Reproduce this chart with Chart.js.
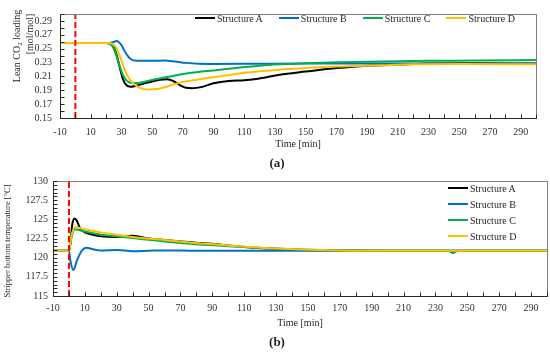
<!DOCTYPE html>
<html>
<head>
<meta charset="utf-8">
<script src="https://cdn.jsdelivr.net/npm/chart.js@4.4.0/dist/chart.umd.min.js"></script>
<style>
  html, body { margin: 0; padding: 0; background: #fff; }
  #wrap { position: relative; width: 550px; height: 352px; overflow: hidden;
    font-family: "Liberation Serif", "Times New Roman", serif; color: #262626; }
  canvas { position: absolute; left: 0; }
  #chartA { top: 0; }
  #chartB { top: 170px; }
  .ytitle { position: absolute; white-space: nowrap; line-height: 1;
    transform: translate(-50%, -50%) rotate(-90deg); font-size: 10px; }
  .ytitle sub { font-size: 7px; vertical-align: -2px; }
  .panel { position: absolute; transform: translate(-50%, -50%); font-weight: bold; font-size: 13px; }
  .legend { position: absolute; display: flex; font-size: 10px; }
  .legend .item { display: flex; align-items: center; height: 16px; }
  .legend .swatch { width: 20px; height: 2px; margin-right: 2px; }
</style>
</head>
<body>
<div id="wrap">
  <canvas id="chartA" width="550" height="150"></canvas>
  <canvas id="chartB" width="550" height="162"></canvas>
  <div class="ytitle" style="left:18px; top:46px;">Lean CO<sub>2</sub> loading</div>
  <div class="ytitle" style="left:30px; top:34px;">[mol/mol]</div>
  <div class="ytitle" style="left:7px; top:241px; font-size:8.5px;">Stripper bottom temperature [°C]</div>
  <div class="panel" style="left:277px; top:163px;">(a)</div>
  <div class="panel" style="left:277px; top:342px;">(b)</div>
  <div class="legend" id="legendA" style="left:195px; top:10px; gap:16px;"></div>
  <div class="legend" id="legendB" style="left:448px; top:180px; flex-direction:column;"></div>
</div>
<script>
const seriesNames = ["Structure A", "Structure B", "Structure C", "Structure D"];
const seriesColors = ["#000000", "#0070C0", "#00B050", "#FFC000"];
const eventTime = 0;

const xTicks = [-10, 10, 30, 50, 70, 90, 110, 130, 150, 170, 190, 210, 230, 250, 270, 290];
const loadTicks = [0.15, 0.17, 0.19, 0.21, 0.23, 0.25, 0.27, 0.29];
const tempTicks = [115, 117.5, 120, 122.5, 125, 127.5, 130];

// (a) lean CO2 loading [mol/mol]
const loadTimeA = [-10, 20, 23, 25, 27, 29, 31, 33, 36, 40, 45, 50, 55, 60, 64, 68, 72, 76, 82, 90, 100, 110, 120, 133, 150, 170, 190, 210, 230, 260, 300];
const loadA = [0.258, 0.258, 0.257, 0.252, 0.240, 0.222, 0.206, 0.198, 0.195, 0.197, 0.200, 0.2026, 0.2053, 0.206, 0.203, 0.1975, 0.1935, 0.193, 0.1945, 0.200, 0.2035, 0.2045, 0.207, 0.2125, 0.217, 0.222, 0.2255, 0.227, 0.2285, 0.229, 0.2285];
const loadTimeB = [-10, 20, 24, 27, 30, 33, 36, 40, 50, 58, 65, 72, 80, 90, 120, 150, 200, 250, 300];
const loadB = [0.258, 0.258, 0.259, 0.261, 0.255, 0.243, 0.235, 0.2325, 0.2325, 0.233, 0.2315, 0.2295, 0.2282, 0.228, 0.2283, 0.2285, 0.2285, 0.2287, 0.2285];
const loadTimeC = [-10, 20, 23, 25, 27, 29, 31, 33, 36, 40, 50, 60, 70, 80, 90, 100, 110, 120, 130, 150, 170, 200, 230, 260, 300];
const loadC = [0.258, 0.258, 0.256, 0.250, 0.238, 0.224, 0.212, 0.205, 0.201, 0.2005, 0.205, 0.209, 0.2135, 0.2165, 0.2185, 0.221, 0.2235, 0.2255, 0.227, 0.229, 0.2305, 0.2315, 0.2325, 0.2328, 0.2335];
const loadTimeD = [-10, 22, 25, 27, 30, 33, 36, 40, 44, 48, 55, 62, 68, 80, 90, 100, 109, 120, 133, 155, 177, 198, 220, 250, 300];
const loadD = [0.258, 0.258, 0.2555, 0.250, 0.233, 0.215, 0.204, 0.196, 0.192, 0.191, 0.1925, 0.197, 0.201, 0.2055, 0.2088, 0.212, 0.215, 0.2175, 0.2197, 0.223, 0.2246, 0.226, 0.2275, 0.228, 0.2275];

// (b) stripper bottom temperature [°C]
const tempTimeA = [-10, 0, 1, 2, 3.5, 5, 7, 10, 15, 20, 30, 35, 40, 45, 50, 60, 70, 80, 90, 100, 110, 130, 150, 170, 200, 300];
const tempA = [120.9, 120.9, 122, 124.2, 125.1, 124.8, 123.8, 123.3, 123.0, 122.8, 122.7, 122.8, 122.85, 122.7, 122.5, 122.3, 122.1, 121.95, 121.8, 121.6, 121.4, 121.15, 121.0, 120.95, 120.9, 120.9];
const tempTimeB = [-10, 0, 1, 2.8, 5, 8, 11, 15, 20, 30, 40, 50, 60, 80, 100, 300];
const tempB = [120.9, 120.9, 119.5, 118.4, 119.6, 120.9, 121.3, 121.1, 120.95, 121.0, 120.85, 120.9, 120.95, 120.9, 120.9, 120.9];
const tempTimeC = [-10, 0, 1.5, 3.5, 6, 10, 20, 30, 40, 60, 80, 100, 130, 170, 200, 238, 241, 244, 300];
const tempC = [120.9, 120.9, 122.5, 123.7, 123.6, 123.4, 123.0, 122.8, 122.55, 122.1, 121.75, 121.5, 121.2, 120.95, 120.9, 120.9, 120.6, 120.9, 120.9];
const tempTimeD = [-10, 0, 1.5, 4, 7, 10, 20, 30, 40, 60, 80, 100, 130, 170, 200, 300];
const tempD = [120.9, 120.9, 122.8, 124.0, 123.85, 123.7, 123.3, 123.0, 122.7, 122.3, 121.9, 121.6, 121.2, 120.95, 120.9, 120.9];

const FONT = "'Liberation Serif', 'Times New Roman', serif";

// frame + inward tick marks like the original plot
const frameTicks = {
  id: "frameTicks",
  afterDraw(chart, args, opts) {
    const { ctx, chartArea: a, scales } = chart;
    const x = scales.x, y = scales.y;
    const L = Math.round(a.left) + 0.5, B = Math.round(a.bottom) + 0.5;
    const R = Math.round(a.right) + 0.5, T = Math.round(a.top) + 0.5;
    ctx.save();
    ctx.lineWidth = 1;
    ctx.strokeStyle = "#7f7f7f";
    ctx.strokeRect(L, T, R - L, B - T);
    ctx.strokeStyle = "#262626";
    ctx.beginPath();
    ctx.moveTo(L, T);
    ctx.lineTo(L, B);
    ctx.lineTo(R, B);
    let n = Math.round((x.max - x.min) / opts.xStep);
    for (let i = 0; i <= n; i++) {
      const px = Math.round(x.getPixelForValue(x.min + i * opts.xStep)) + 0.5;
      ctx.moveTo(px, B);
      ctx.lineTo(px, B - opts.len);
    }
    n = Math.round((y.max - y.min) / opts.yStep);
    for (let i = 0; i <= n; i++) {
      const py = Math.round(y.getPixelForValue(y.min + i * opts.yStep)) + 0.5;
      ctx.moveTo(L, py);
      ctx.lineTo(L + opts.len, py);
    }
    ctx.stroke();
    ctx.restore();
  }
};

const toPoints = (ts, vs) => ts.map((t, i) => ({ x: t, y: vs[i] }));

function makeChart(id, series, cfg) {
  const datasets = series.map((s, i) => ({
    label: seriesNames[i],
    data: toPoints(s[0], s[1]),
    borderColor: seriesColors[i],
    borderWidth: 2,
    pointRadius: 0,
    cubicInterpolationMode: "monotone",
    order: 4 - i,
  }));
  datasets.push({
    label: "event",
    data: [{ x: eventTime, y: cfg.yMin }, { x: eventTime, y: cfg.yMax }],
    borderColor: "#FF0000",
    borderWidth: 2,
    borderDash: [6, 3],
    pointRadius: 0,
    order: 0,
  });

  return new Chart(document.getElementById(id), {
    type: "line",
    data: { datasets },
    options: {
      responsive: false,
      animation: false,
      devicePixelRatio: 1,
      layout: { padding: cfg.padding },
      plugins: {
        legend: { display: false },
        tooltip: { enabled: false },
        frameTicks: { xStep: 10, yStep: cfg.yMinor, len: 4 },
      },
      scales: {
        x: {
          type: "linear",
          min: -10,
          max: 300,
          afterBuildTicks: (s) => { s.ticks = xTicks.map((v) => ({ value: v })); },
          afterFit: (s) => { s.height = cfg.xHeight; },
          grid: { display: false, drawTicks: false },
          border: { display: false },
          ticks: { padding: cfg.xPad, autoSkip: false, maxRotation: 0, color: "#333",
            font: { family: FONT, size: 10 }, callback: (v) => String(v) },
          title: { display: true, text: "Time [min]", color: "#262626",
            font: { family: FONT, size: 10 }, padding: cfg.titlePad },
        },
        y: {
          type: "linear",
          min: cfg.yMin,
          max: cfg.yMax,
          afterBuildTicks: (s) => { s.ticks = cfg.yTicks.map((v) => ({ value: v })); },
          afterFit: (s) => { s.width = cfg.yWidth; },
          grid: { display: false, drawTicks: false },
          border: { display: false },
          ticks: { padding: cfg.yPad, autoSkip: false, color: "#333",
            font: { family: FONT, size: 10 }, callback: cfg.fmt },
        },
      },
    },
    plugins: [frameTicks],
  });
}

makeChart("chartA",
  [[loadTimeA, loadA], [loadTimeB, loadB], [loadTimeC, loadC], [loadTimeD, loadD]],
  { yMin: 0.15, yMax: 0.30, yTicks: loadTicks, yMinor: 0.01, fmt: (v) => v.toFixed(2),
    padding: { top: 4, right: 14, left: 0, bottom: 0 }, xHeight: 32, yWidth: 60,
    xPad: 8, yPad: 8, titlePad: { top: 0, bottom: 0 } });

makeChart("chartB",
  [[tempTimeA, tempA], [tempTimeB, tempB], [tempTimeC, tempC], [tempTimeD, tempD]],
  { yMin: 115, yMax: 130, yTicks: tempTicks, yMinor: 0.5, fmt: (v) => String(v),
    padding: { top: 7, right: 3, left: 0, bottom: 0 }, xHeight: 36, yWidth: 53,
    xPad: 6, yPad: 5, titlePad: { top: 0, bottom: 3 } });

// html legends
function buildLegend(id) {
  const box = document.getElementById(id);
  seriesNames.forEach((name, i) => {
    const item = document.createElement("div");
    item.className = "item";
    const sw = document.createElement("span");
    sw.className = "swatch";
    sw.style.background = seriesColors[i];
    item.appendChild(sw);
    item.appendChild(document.createTextNode(name));
    box.appendChild(item);
  });
}
buildLegend("legendA");
buildLegend("legendB");
</script>
</body>
</html>
